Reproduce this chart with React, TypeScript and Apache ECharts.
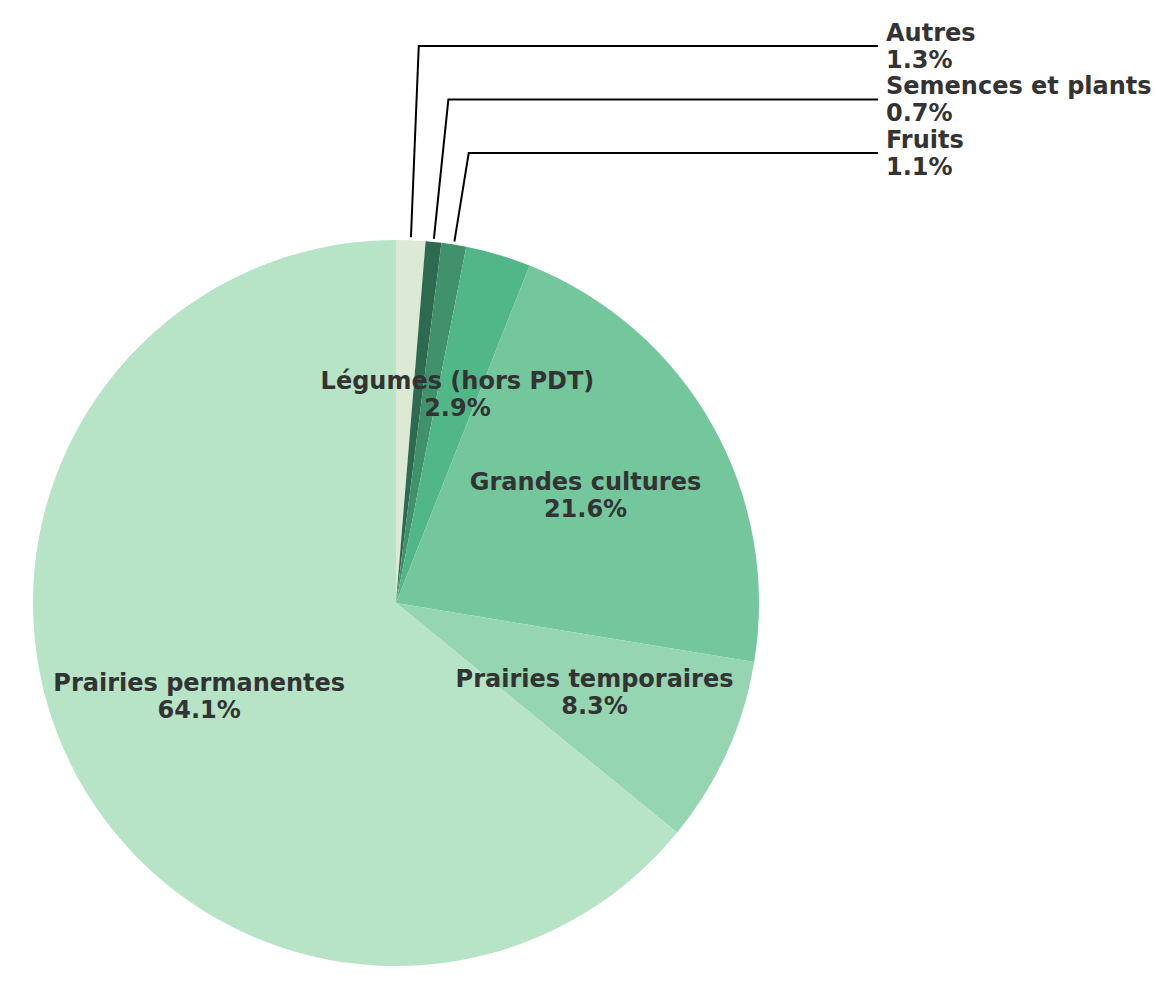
import React, { useEffect, useRef } from 'react';
import * as echarts from 'echarts';

// ---- Data ----
const categories = [
  'Autres',
  'Semences et plants',
  'Fruits',
  'Légumes (hors PDT)',
  'Grandes cultures',
  'Prairies temporaires',
  'Prairies permanentes',
];
const shares = [1.3, 0.7, 1.1, 2.9, 21.6, 8.3, 64.1];
const colors = ['#dce9d5', '#2d6a4f', '#40916c', '#52b788', '#74c69d', '#95d5b2', '#b7e4c7'];
const calloutLabels = [true, true, true, false, false, false, false];

// ---- Layout ----
const CX = 396;
const CY = 603;
const R = 363;
const INNER_LABEL_R = 0.6 * R;
const LEADER_START_R = R + 3;
const CALLOUT_Y = [46, 99.5, 153];
const CALLOUT_LINE_END_X = 878;
const CALLOUT_TEXT_X = 886;

const total = shares.reduce((a, b) => a + b, 0);

function midAngle(i: number): number {
  let before = 0;
  for (let j = 0; j < i; j++) before += shares[j];
  return ((before + shares[i] / 2) / total) * Math.PI * 2;
}

export default function App() {
  const ref = useRef<HTMLDivElement>(null);

  useEffect(() => {
    if (!ref.current) return;
    const chart = echarts.init(ref.current, undefined, { renderer: 'svg' });
    const textStyle = {
      fontFamily: 'DejaVu Sans',
      fontWeight: 'bold' as const,
      fontSize: 24,
      lineHeight: 27,
      color: '#333333',
      textBorderWidth: 0,
      overflow: 'none' as const,
    };
    const data = categories.map((name, i) => ({
      name,
      value: shares[i],
      itemStyle: { color: colors[i] },
      label: {
        show: true,
        position: calloutLabels[i] ? 'outside' : 'inside',
        align: calloutLabels[i] ? 'left' : 'center',
        ...textStyle,
      },
      labelLine: {
        show: calloutLabels[i],
        lineStyle: { color: '#000000', width: 2 },
      },
    }));
    const calloutOrder: number[] = [];
    categories.forEach((_, i) => {
      if (calloutLabels[i]) calloutOrder.push(i);
    });

    chart.setOption({
      animation: false,
      backgroundColor: '#ffffff',
      series: [
        {
          type: 'pie',
          center: [CX, CY],
          radius: [0, R],
          startAngle: 90,
          clockwise: true,
          avoidLabelOverlap: false,
          minShowLabelAngle: 0,
          itemStyle: { borderWidth: 0 },
          emphasis: { disabled: true },
          label: {
            formatter: (p: any) => `${p.name}\n${Number(p.value).toFixed(1)}%`,
          },
          data,
          labelLayout: (p: any) => {
            const i = p.dataIndex;
            const a = midAngle(i);
            const s = Math.sin(a);
            const c = Math.cos(a);
            if (calloutLabels[i]) {
              const k = calloutOrder.indexOf(i);
              const ly = CALLOUT_Y[k];
              const start = [CX + LEADER_START_R * s, CY - LEADER_START_R * c];
              const elbow = [CX + ((CY - ly) * s) / c, ly];
              return {
                x: CALLOUT_TEXT_X,
                y: ly,
                align: 'left',
                verticalAlign: 'middle',
                labelLinePoints: [start, elbow, [CALLOUT_LINE_END_X, ly]],
              };
            }
            return {
              x: CX + INNER_LABEL_R * s,
              y: CY - INNER_LABEL_R * c,
              align: 'center',
              verticalAlign: 'middle',
            };
          },
        },
      ],
    });
    return () => chart.dispose();
  }, []);

  return (
    <div
      ref={ref}
      style={{ position: 'absolute', left: 0, top: 0, width: 1173, height: 989 }}
    />
  );
}
